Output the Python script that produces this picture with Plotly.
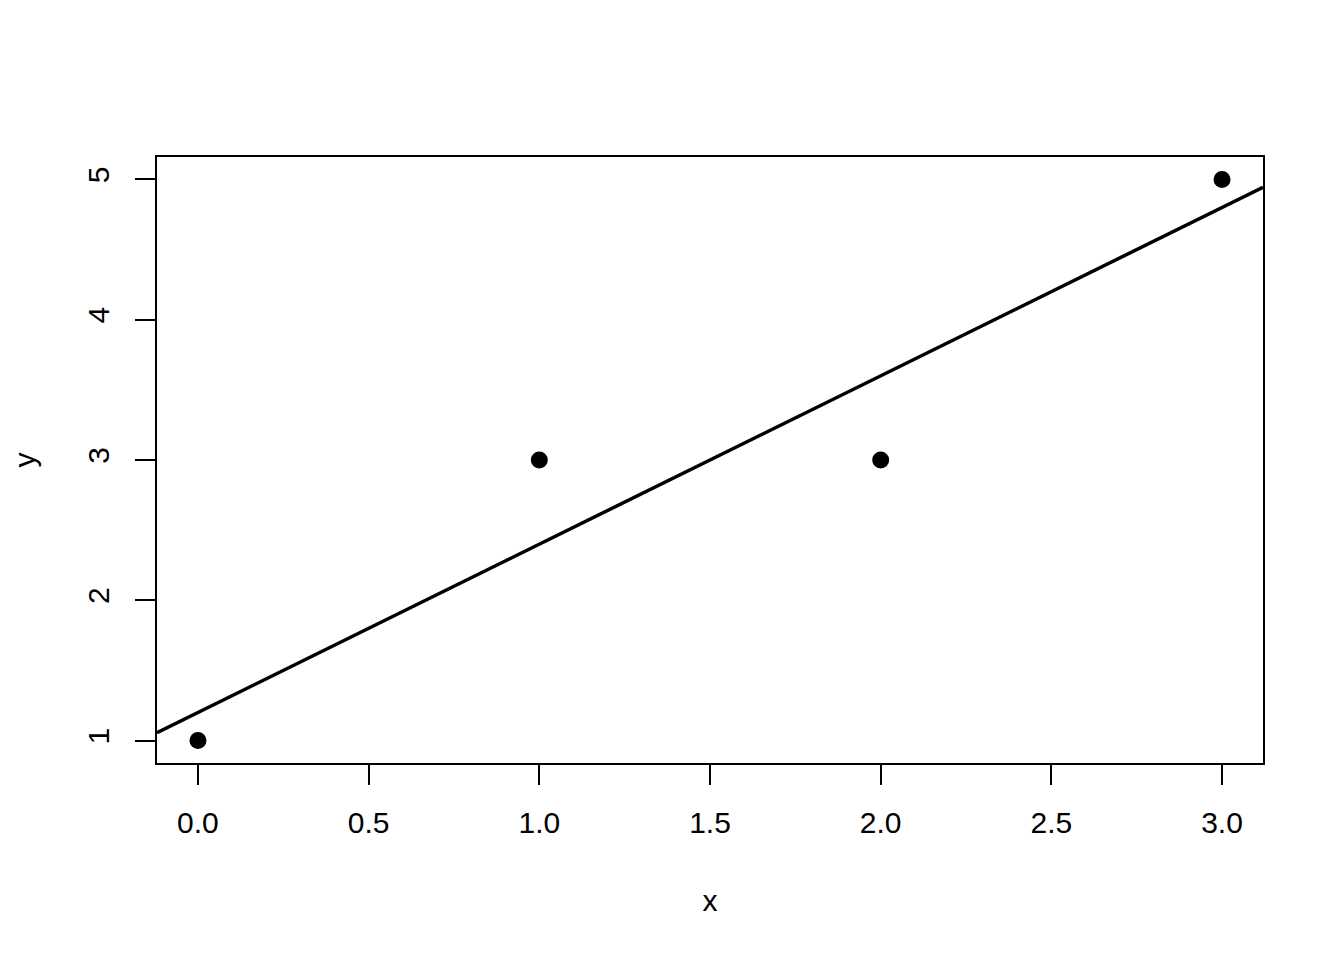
import numpy as np
import plotly.graph_objects as go

x = [0, 1, 2, 3]
y = [1, 3, 3, 5]
x_ticks = [0.0, 0.5, 1.0, 1.5, 2.0, 2.5, 3.0]
y_ticks = [1, 2, 3, 4, 5]

# R-style axis ranges: data range padded by 4% on each side
def r_range(v):
    lo, hi = min(v), max(v)
    pad = 0.04 * (hi - lo)
    return [lo - pad, hi + pad]

xr = r_range(x)
yr = r_range(y)

# least squares fit, drawn across the whole plot region like abline(lm(y ~ x))
slope, intercept = np.polyfit(x, y, 1)
line_x = np.array(xr)
line_y = intercept + slope * line_x

font = dict(family="Liberation Sans, Arial, sans-serif", size=30, color="black")

fig = go.Figure()
fig.add_trace(go.Scatter(x=line_x, y=line_y, mode="lines",
                         line=dict(color="black", width=3.5), hoverinfo="skip"))
fig.add_trace(go.Scatter(x=x, y=y, mode="markers",
                         marker=dict(color="black", size=17)))

axis_common = dict(showgrid=False, zeroline=False, showline=True, mirror=True,
                   linecolor="black", linewidth=2, ticks="outside", ticklen=20,
                   tickwidth=2, tickcolor="black", tickfont=font)

fig.update_xaxes(range=xr, tickvals=x_ticks,
                 ticktext=[f"{v:.1f}" for v in x_ticks],
                 ticklabelstandoff=12,
                 title=dict(text="x", font=font, standoff=52), **axis_common)
fig.update_yaxes(range=yr, tickvals=y_ticks, tickangle=-90,
                 ticklabelstandoff=14,
                 title=dict(text="y", font=font, standoff=42), **axis_common)

# page body adds an 8px offset, so the figure is 8px smaller than the window
fig.update_layout(width=1336, height=952, showlegend=False,
                  plot_bgcolor="white", paper_bgcolor="white",
                  margin=dict(l=149, r=81, t=149, b=197), font=font)

fig.write_html("out.html")
